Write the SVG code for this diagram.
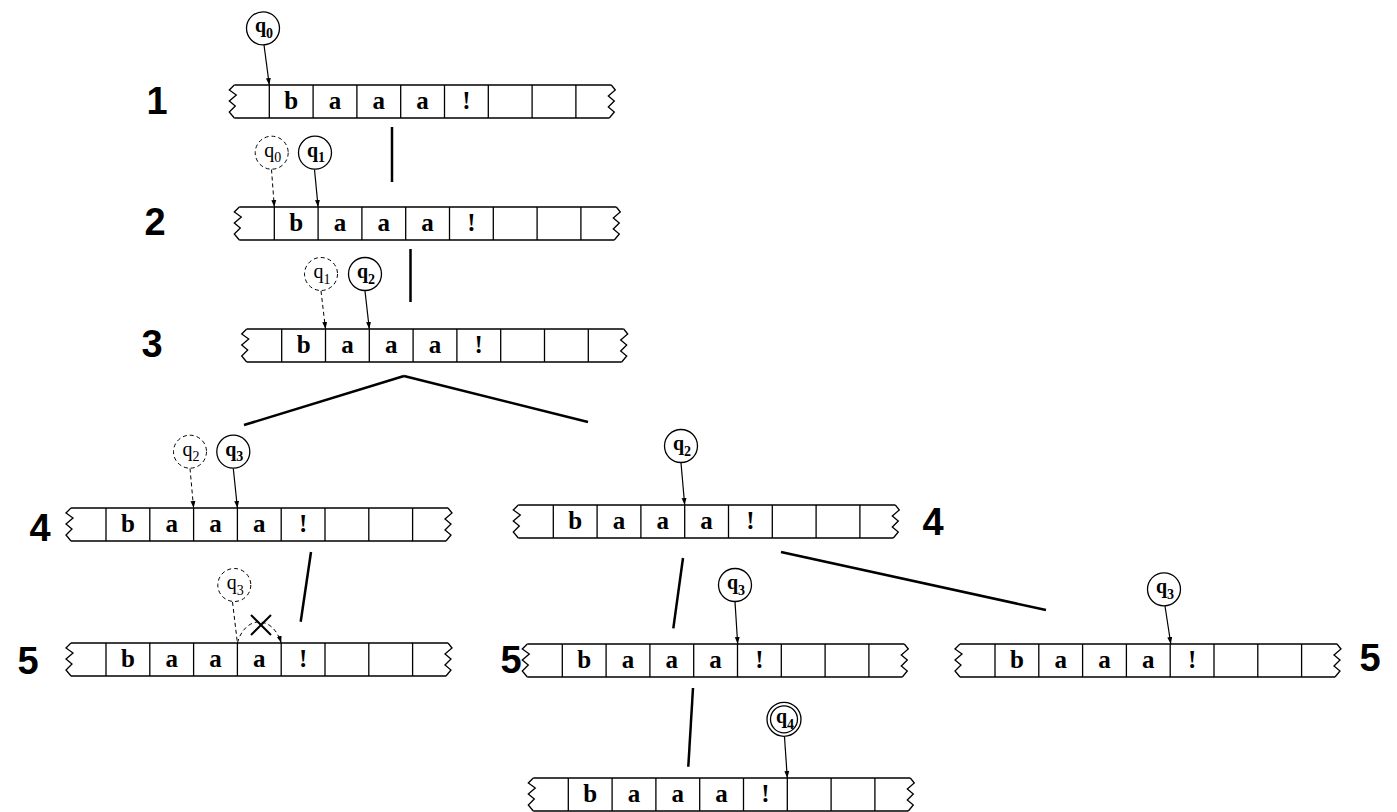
<svg xmlns="http://www.w3.org/2000/svg" width="1397" height="812" viewBox="0 0 1397 812">
<style>
.tl{fill:none;stroke:#000;stroke-width:1.3}
.sym{font-family:"Liberation Serif",serif;font-weight:bold;font-size:25px;text-anchor:middle;fill:#000}
.st{fill:#fff;stroke:#000;stroke-width:1.3}
.ds{fill:#fff;stroke:#000;stroke-width:1;stroke-dasharray:4 3}
.ql{font-family:"Liberation Serif",serif;font-weight:bold;font-size:20px;text-anchor:middle;fill:#000}
.qd{font-family:"Liberation Serif",serif;font-weight:normal;font-size:20px;text-anchor:middle;fill:#000}
.sub{font-size:14px}
.ar{fill:none;stroke:#000;stroke-width:1.2;marker-end:url(#ah)}
.ard{fill:none;stroke:#000;stroke-width:1;stroke-dasharray:4 3}
.arda{fill:none;stroke:#000;stroke-width:1;stroke-dasharray:4 3;marker-end:url(#ah)}
.cn{fill:none;stroke:#000;stroke-width:2.5}
.num{font-family:"Liberation Sans",Arial,sans-serif;font-weight:bold;font-size:38px;text-anchor:middle;fill:#000}
</style>
<defs>
<marker id="ah" viewBox="0 0 10 10" refX="10" refY="5" markerWidth="7" markerHeight="7" markerUnits="userSpaceOnUse" orient="auto">
<path d="M0,1.5 L10,5 L0,8.5 z" fill="#000" stroke="none"/>
</marker>
<g id="tape">
<path class="tl" d="M-35,0 H342 M-35,33 H340"/>
<path class="tl" d="M-35,0 L-40,5 L-33,10 L-40,16 L-34,21 L-40,27 L-35,33"/>
<path class="tl" d="M342,0 L346,5 L339,11 L345,16 L339,22 L345,27 L340,33"/>
<path class="tl" d="M0,0V33 M43.8,0V33 M87.6,0V33 M131.4,0V33 M175.2,0V33 M219,0V33 M262.8,0V33 M306.6,0V33"/>
<text class="sym" x="21.9" y="24">b</text>
<text class="sym" x="65.7" y="24">a</text>
<text class="sym" x="109.5" y="24">a</text>
<text class="sym" x="153.3" y="24">a</text>
<text class="sym" x="197.1" y="24">!</text>
</g>
</defs>
<rect width="1397" height="812" fill="#fff"/>

<g id="connectors">
<line class="cn" x1="392" y1="127" x2="392" y2="182"/>
<line class="cn" x1="410.5" y1="249" x2="410.5" y2="302"/>
<line class="cn" x1="404" y1="376" x2="244" y2="425"/>
<line class="cn" x1="404" y1="376" x2="588" y2="422"/>
<line class="cn" x1="311" y1="552" x2="300.7" y2="621.7"/>
<line class="cn" x1="683" y1="558" x2="673.3" y2="628.3"/>
<line class="cn" x1="781" y1="552" x2="1046" y2="610"/>
<line class="cn" x1="693" y1="688" x2="688.3" y2="766.7"/>
</g>

<g id="step1">
<text class="num" x="157" y="114">1</text>
<use href="#tape" transform="translate(269.3,85)"/>
<path class="ar" d="M264,45 L269.3,85"/>
<circle class="st" cx="263" cy="28.3" r="16.5"/>
<text class="ql" x="264" y="32.3">q<tspan class="sub" dy="5.5">0</tspan></text>
</g>

<g id="step2">
<text class="num" x="155" y="235">2</text>
<use href="#tape" transform="translate(274.3,207)"/>
<path class="arda" d="M271.5,169.5 L274.3,207"/>
<circle class="ds" cx="271.7" cy="152.7" r="16.5"/>
<text class="qd" x="272.7" y="156.7">q<tspan class="sub" dy="5.5">0</tspan></text>
<path class="ar" d="M314.5,169.5 L318.1,207"/>
<circle class="st" cx="315" cy="152.7" r="16.5"/>
<text class="ql" x="316" y="156.7">q<tspan class="sub" dy="5.5">1</tspan></text>
</g>

<g id="step3">
<text class="num" x="152" y="357">3</text>
<use href="#tape" transform="translate(281.7,329)"/>
<path class="arda" d="M321,291 L325.5,329"/>
<circle class="ds" cx="321" cy="274" r="16.5"/>
<text class="qd" x="322" y="278">q<tspan class="sub" dy="5.5">1</tspan></text>
<path class="ar" d="M365,291 L369.3,329"/>
<circle class="st" cx="365" cy="274" r="16.5"/>
<text class="ql" x="366" y="278">q<tspan class="sub" dy="5.5">2</tspan></text>
</g>

<g id="step4-left">
<text class="num" x="40" y="541">4</text>
<use href="#tape" transform="translate(106,508)"/>
<path class="arda" d="M190,468.5 L193.6,508"/>
<circle class="ds" cx="190" cy="451.7" r="16.5"/>
<text class="qd" x="191" y="455.7">q<tspan class="sub" dy="5.5">2</tspan></text>
<path class="ar" d="M233.3,468.5 L237.4,508"/>
<circle class="st" cx="233.3" cy="451.7" r="16.5"/>
<text class="ql" x="234.3" y="455.7">q<tspan class="sub" dy="5.5">3</tspan></text>
</g>

<g id="step4-right">
<text class="num" x="933" y="535">4</text>
<use href="#tape" transform="translate(553.3,505)"/>
<path class="ar" d="M681,463 L684.7,505"/>
<circle class="st" cx="681" cy="446" r="16.5"/>
<text class="ql" x="682" y="450">q<tspan class="sub" dy="5.5">2</tspan></text>
</g>

<g id="step5-left">
<text class="num" x="28" y="674">5</text>
<use href="#tape" transform="translate(106,643)"/>
<path class="ard" d="M232.5,602 L237.4,643"/>
<path class="arda" d="M237.4,643 C245,615 273,615 281.2,643"/>
<circle class="ds" cx="234.3" cy="585" r="16.5"/>
<text class="qd" x="235.3" y="589">q<tspan class="sub" dy="5.5">3</tspan></text>
<path d="M251,615 L271,635 M251,635 L271,615" fill="none" stroke="#000" stroke-width="2"/>
</g>

<g id="step5-middle">
<text class="num" x="511" y="673">5</text>
<use href="#tape" transform="translate(562.3,644)"/>
<path class="ar" d="M735,602 L737.7,644"/>
<circle class="st" cx="735" cy="585" r="16.5"/>
<text class="ql" x="736" y="589">q<tspan class="sub" dy="5.5">3</tspan></text>
</g>

<g id="step5-right">
<text class="num" x="1370" y="671">5</text>
<use href="#tape" transform="translate(995,644)"/>
<path class="ar" d="M1165,606 L1170.8,644"/>
<circle class="st" cx="1164" cy="589.3" r="16.5"/>
<text class="ql" x="1165" y="593.3">q<tspan class="sub" dy="5.5">3</tspan></text>
</g>

<g id="step6-accept">
<use href="#tape" transform="translate(568.3,778)"/>
<path class="ar" d="M784.5,737 L787.3,778"/>
<circle class="st" cx="784" cy="719.3" r="17"/>
<circle class="st" cx="784" cy="719.3" r="13.5"/>
<text class="ql" x="785" y="723.3">q<tspan class="sub" dy="5.5">4</tspan></text>
</g>
</svg>
